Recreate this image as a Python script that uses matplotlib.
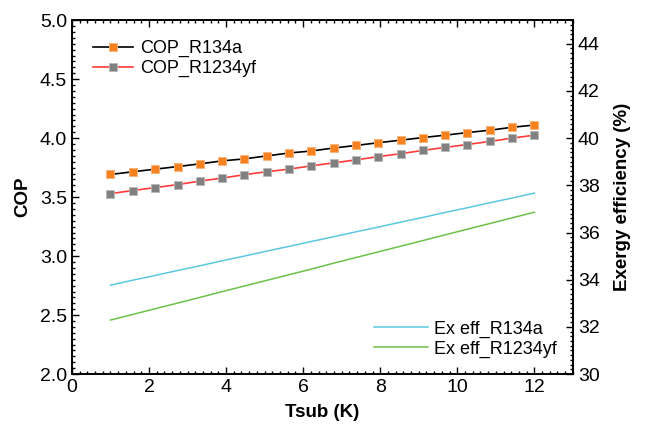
import matplotlib.pyplot as plt
from matplotlib.ticker import MultipleLocator

plt.rcParams['font.family'] = ['Liberation Sans', 'DejaVu Sans']

# Subcooling temperature (K)
tsub = [1.00, 1.58, 2.16, 2.74, 3.32, 3.89, 4.47, 5.05, 5.63, 6.21,
        6.79, 7.37, 7.95, 8.53, 9.11, 9.68, 10.26, 10.84, 11.42, 12.00]

cop_r134a = [3.692, 3.715, 3.737, 3.759, 3.782, 3.807, 3.824, 3.849, 3.874, 3.891,
             3.916, 3.938, 3.961, 3.983, 4.005, 4.025, 4.047, 4.067, 4.092, 4.111]
cop_r1234yf = [3.530, 3.556, 3.581, 3.606, 3.636, 3.661, 3.690, 3.715, 3.737, 3.765,
               3.790, 3.816, 3.843, 3.868, 3.896, 3.921, 3.946, 3.972, 4.000, 4.025]

ex_r134a = [33.77, 33.98, 34.18, 34.39, 34.59, 34.80, 35.00, 35.21, 35.41, 35.62,
            35.82, 36.03, 36.23, 36.44, 36.64, 36.85, 37.05, 37.26, 37.46, 37.67]
ex_r1234yf = [32.29, 32.53, 32.77, 33.01, 33.25, 33.49, 33.73, 33.97, 34.21, 34.45,
              34.70, 34.94, 35.18, 35.42, 35.66, 35.90, 36.14, 36.38, 36.62, 36.86]

fig = plt.figure(figsize=(6.54, 4.29), dpi=100)
ax1 = fig.add_axes([0.110, 0.128, 0.766, 0.825])
ax2 = ax1.twinx()

ax1.plot(tsub, cop_r134a, color='black', lw=1.2, marker='s', ms=6,
         mfc='#F5821F', mec='#F9B27A', mew=0.6, label='COP_R134a')
ax1.plot(tsub, cop_r1234yf, color='#FF3B3B', lw=1.2, marker='s', ms=6,
         mfc='#808080', mec='#B8B8B8', mew=0.6, label='COP_R1234yf')

ax2.plot(tsub, ex_r134a, color='#5BC8E0', lw=1.1, label='Ex eff_R134a')
ax2.plot(tsub, ex_r1234yf, color='#6CC04A', lw=1.1, label='Ex eff_R1234yf')

ax1.set_xlim(0, 13)
ax1.set_ylim(2.0, 5.0)
ax2.set_ylim(30, 45)

ax1.xaxis.set_major_locator(MultipleLocator(2))
ax1.xaxis.set_minor_locator(MultipleLocator(0.2))
ax1.yaxis.set_major_locator(MultipleLocator(0.5))
ax1.yaxis.set_minor_locator(MultipleLocator(0.05))
ax2.yaxis.set_minor_locator(MultipleLocator(0.2))
ax2.set_yticks([30, 32, 34, 36, 38, 40, 42, 44])
ax1.yaxis.set_major_formatter(plt.FormatStrFormatter('%.1f'))

ax1.tick_params(which='both', direction='in', top=True, labelsize=14, width=1)
ax1.tick_params(which='major', length=5)
ax1.tick_params(which='minor', length=2.5)
ax1.tick_params(axis='y', right=False)
ax2.tick_params(which='both', direction='in', labelsize=14, width=1)
ax2.tick_params(which='major', length=5)
ax2.tick_params(which='minor', length=2.5)

for a in (ax1, ax2):
    for s in a.spines.values():
        s.set_linewidth(1.2)

ax1.set_xlabel('Tsub (K)', fontsize=13.5, fontweight='bold', labelpad=6)
ax1.set_ylabel('COP', fontsize=13.5, fontweight='bold', labelpad=6)
ax2.set_ylabel('Exergy efficiency (%)', fontsize=13.5, fontweight='bold', labelpad=10)

ax1.legend(loc='upper left', bbox_to_anchor=(0.01, 0.99), frameon=False,
           fontsize=13, handlelength=2.2, handletextpad=0.4, labelspacing=0.15)
ax2.legend(loc='lower right', bbox_to_anchor=(1.0, 0.0), frameon=False,
           fontsize=13, handlelength=3.0, handletextpad=0.3, labelspacing=0.15)

fig.savefig('out.png', dpi=100)
